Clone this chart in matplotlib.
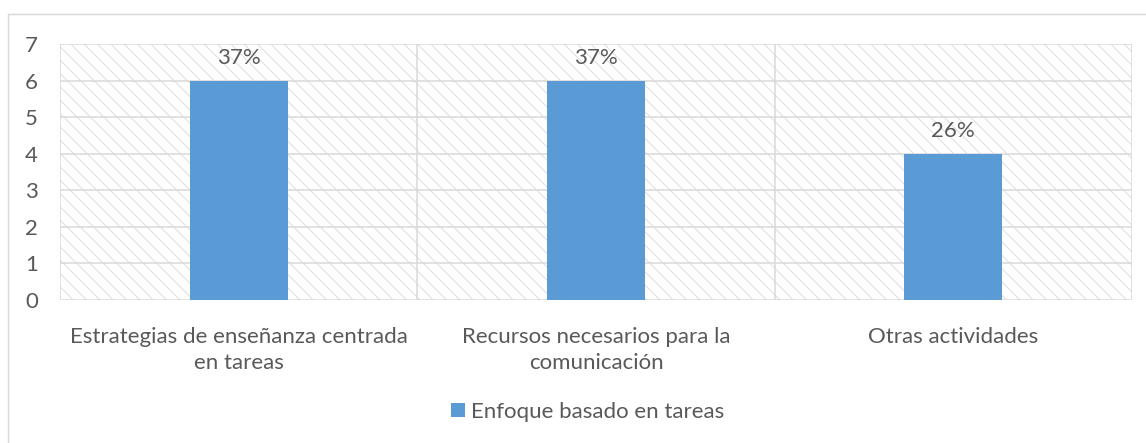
import matplotlib
matplotlib.use("Agg")
import matplotlib.pyplot as plt
from matplotlib.patches import Rectangle, Patch

categories = ["Estrategias de enseñanza centrada\nen tareas",
              "Recursos necesarios para la\ncomunicación",
              "Otras actividades"]
values = [6, 6, 4]
labels = ["37%", "37%", "26%"]
series_name = "Enfoque basado en tareas"
yticks = [0, 1, 2, 3, 4, 5, 6, 7]

DPI = 80
plt.rcParams['font.family'] = ['Lato', 'DejaVu Sans']
plt.rcParams['hatch.linewidth'] = 0.8
text_color = '#595959'
grid_color = '#d9d9d9'
fs = 20

W, H = 1146, 443
fig = plt.figure(figsize=(W/DPI, H/DPI), dpi=DPI)
# outer chart frame
fig.patches.append(Rectangle((8/W, -0.1), 1.2, 1 - 14/H + 0.1, transform=fig.transFigure,
                             fill=False, edgecolor=grid_color, linewidth=1.3))

ax = fig.add_axes([60/W, 1 - 300/H, (1132-60)/W, (300-44)/H])
n = len(categories)
ax.set_xlim(0, n)
ax.set_ylim(0, 7)
# hatched background
ax.add_patch(Rectangle((0, 0), n, 7, facecolor='white', edgecolor='#dadada', linewidth=0,
                       hatch='\\\\', zorder=0))
for y in yticks:
    ax.axhline(y, color=grid_color, linewidth=1.4, zorder=1)
for x in range(n + 1):
    ax.axvline(x, color=grid_color, linewidth=1.4, zorder=1)

xs = [i + 0.5 for i in range(n)]
bars = ax.bar(xs, values, width=0.275, color='#5B9BD5', zorder=3, label=series_name)
for x, v, l in zip(xs, values, labels):
    ax.text(x, v + 0.34, l, ha='center', va='bottom', fontsize=fs, color=text_color)

ax.set_yticks(yticks)
ax.set_xticks(xs)
ax.set_xticklabels(categories, fontsize=fs, color=text_color, linespacing=1.42)
ax.tick_params(axis='y', labelsize=fs, labelcolor=text_color, length=0, pad=20)
ax.tick_params(axis='x', length=0, pad=24)
for s in ax.spines.values():
    s.set_visible(False)

fig.legend(handles=[Patch(facecolor='#5B9BD5', label=series_name)],
           loc='center', bbox_to_anchor=(588/W, 1 - 412/H), frameon=False,
           fontsize=fs, labelcolor=text_color, handlelength=0.6, handleheight=0.6,
           handletextpad=0.3)

fig.savefig("out.png", dpi=DPI)
